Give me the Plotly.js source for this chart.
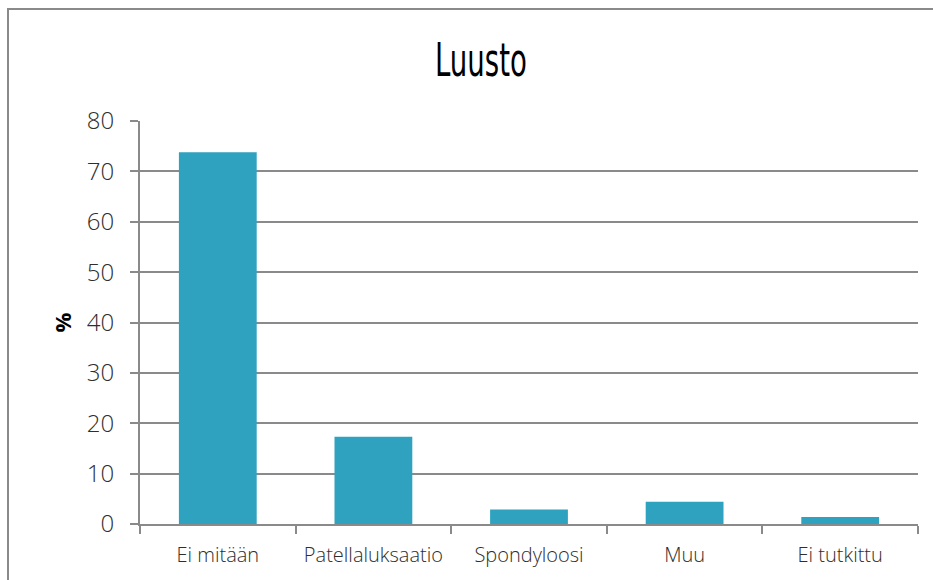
<!DOCTYPE html>
<html>
<head>
<meta charset="utf-8">
<script src="https://cdn.plot.ly/plotly-3.0.1.min.js"></script>
<style>
  html, body { margin: 0; padding: 0; background: #fff; }
  #wrap { position: relative; width: 933px; height: 580px; overflow: hidden; }
  #frame { position: absolute; left: 7px; top: 8px; width: 940px; height: 600px;
           border-top: 2px solid #8a8a8a; border-left: 2px solid #8a8a8a; pointer-events: none; }
  #chart { position: absolute; left: 0; top: 0; width: 933px; height: 580px; }
</style>
</head>
<body>
<div id="wrap">
  <div id="frame"></div>
  <div id="chart"></div>
</div>
<script>
const categories = ["Ei mitään", "Patellaluksaatio", "Spondyloosi", "Muu", "Ei tutkittu"];
const values = [73.8, 17.3, 2.9, 4.4, 1.4];
const yTicks = [0, 10, 20, 30, 40, 50, 60, 70, 80];
const titleText = "Luusto";
const yTitleText = "%";

const trace = {
  type: "bar",
  x: categories,
  y: values,
  marker: { color: "#2ea2bf" },
  hoverinfo: "x+y"
};

const layout = {
  width: 933,
  height: 580,
  margin: { l: 140, r: 15, t: 121, b: 56 },
  paper_bgcolor: "rgba(0,0,0,0)",
  plot_bgcolor: "rgba(0,0,0,0)",
  bargap: 0.5,
  showlegend: false,
  title: {
    text: titleText,
    x: 0.5155, xref: "container", xanchor: "center",
    y: 0.897, yref: "container", yanchor: "middle",
    font: { family: "DejaVu Sans, sans-serif", size: 46, color: "#000", weight: 500 }
  },
  xaxis: {
    type: "category",
    tickson: "boundaries",
    ticks: "outside",
    ticklen: 8,
    tickwidth: 2,
    tickcolor: "#8a8a8a",
    showline: true,
    linecolor: "#8a8a8a",
    linewidth: 2,
    showgrid: false,
    ticklabelstandoff: 12,
    tickfont: { family: "Open Sans, sans-serif", size: 20, color: "#2e2e2e", weight: 300 }
  },
  yaxis: {
    range: [0, 80],
    tickvals: yTicks,
    ticktext: yTicks.map(String),
    ticks: "outside",
    ticklen: 8,
    tickwidth: 2,
    tickcolor: "#8a8a8a",
    showline: true,
    linecolor: "#8a8a8a",
    linewidth: 2,
    showgrid: true,
    gridcolor: "#8a8a8a",
    gridwidth: 2,
    zeroline: false,
    ticklabelstandoff: 11,
    tickfont: { family: "Open Sans, sans-serif", size: 24, color: "#2e2e2e", weight: 300 },
    title: {
      text: yTitleText,
      standoff: 9,
      font: { family: "Open Sans, sans-serif", size: 22, color: "#000", weight: 700 }
    }
  }
};

Plotly.newPlot("chart", [trace], layout, { displayModeBar: false }).then(function () {
  const t = document.querySelector("#chart .gtitle");
  if (t) {
    const b = t.getBBox();
    const cx = b.x + b.width / 2;
    t.setAttribute("transform", "translate(" + cx + ",0) scale(0.6,1) translate(" + (-cx) + ",0)");
  }
});
</script>
</body>
</html>
